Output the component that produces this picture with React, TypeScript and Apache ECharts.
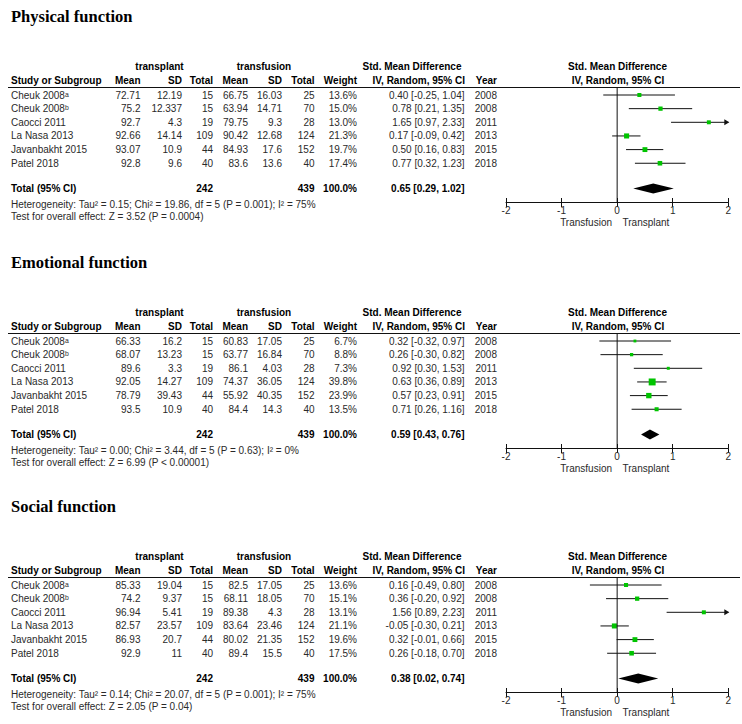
import React, { useEffect, useRef } from "react";
import * as echarts from "echarts";

// ---------- shared data ----------
const studies = ["Cheuk 2008ᵃ", "Cheuk 2008ᵇ", "Caocci 2011", "La Nasa 2013", "Javanbakht 2015", "Patel 2018"];
const years = [2008, 2008, 2011, 2013, 2015, 2018];
const tTotal = [15, 15, 19, 109, 44, 40];
const cTotal = [25, 70, 28, 124, 152, 40];
const xTicks = [-2, -1, 0, 1, 2];

// ---------- Physical function ----------
const physTMean = [72.71, 75.2, 92.7, 92.66, 93.07, 92.8];
const physTSD = [12.19, 12.337, 4.3, 14.14, 10.9, 9.6];
const physCMean = [66.75, 63.94, 79.75, 90.42, 84.93, 83.6];
const physCSD = [16.03, 14.71, 9.3, 12.68, 17.6, 13.6];
const physWeight = [13.6, 15.0, 13.0, 21.3, 19.7, 17.4];
const physSMD = [0.40, 0.78, 1.65, 0.17, 0.50, 0.77];
const physLo = [-0.25, 0.21, 0.97, -0.09, 0.16, 0.32];
const physHi = [1.04, 1.35, 2.33, 0.42, 0.83, 1.23];
const physTotal = [0.65, 0.29, 1.02];
const physHet = "Heterogeneity: Tau² = 0.15; Chi² = 19.86, df = 5 (P = 0.001); I² = 75%";
const physTest = "Test for overall effect: Z = 3.52 (P = 0.0004)";

// ---------- Emotional function ----------
const emoTMean = [66.33, 68.07, 89.6, 92.05, 78.79, 93.5];
const emoTSD = [16.2, 13.23, 3.3, 14.27, 39.43, 10.9];
const emoCMean = [60.83, 63.77, 86.1, 74.37, 55.92, 84.4];
const emoCSD = [17.05, 16.84, 4.03, 36.05, 40.35, 14.3];
const emoWeight = [6.7, 8.8, 7.3, 39.8, 23.9, 13.5];
const emoSMD = [0.32, 0.26, 0.92, 0.63, 0.57, 0.71];
const emoLo = [-0.32, -0.30, 0.30, 0.36, 0.23, 0.26];
const emoHi = [0.97, 0.82, 1.53, 0.89, 0.91, 1.16];
const emoTotal = [0.59, 0.43, 0.76];
const emoHet = "Heterogeneity: Tau² = 0.00; Chi² = 3.44, df = 5 (P = 0.63); I² = 0%";
const emoTest = "Test for overall effect: Z = 6.99 (P < 0.00001)";

// ---------- Social function ----------
const socTMean = [85.33, 74.2, 96.94, 82.57, 86.93, 92.9];
const socTSD = [19.04, 9.37, 5.41, 23.57, 20.7, 11];
const socCMean = [82.5, 68.11, 89.38, 83.64, 80.02, 89.4];
const socCSD = [17.05, 18.05, 4.3, 23.46, 21.35, 15.5];
const socWeight = [13.6, 15.1, 13.1, 21.1, 19.6, 17.5];
const socSMD = [0.16, 0.36, 1.56, -0.05, 0.32, 0.26];
const socLo = [-0.49, -0.20, 0.89, -0.30, -0.01, -0.18];
const socHi = [0.80, 0.92, 2.23, 0.21, 0.66, 0.70];
const socTotal = [0.38, 0.02, 0.74];
const socHet = "Heterogeneity: Tau² = 0.14; Chi² = 20.07, df = 5 (P = 0.001); I² = 75%";
const socTest = "Test for overall effect: Z = 2.05 (P = 0.04)";

const panels = [
  { title: "Physical function", tMean: physTMean, tSD: physTSD, cMean: physCMean, cSD: physCSD, weight: physWeight, smd: physSMD, lo: physLo, hi: physHi, total: physTotal, het: physHet, test: physTest },
  { title: "Emotional function", tMean: emoTMean, tSD: emoTSD, cMean: emoCMean, cSD: emoCSD, weight: emoWeight, smd: emoSMD, lo: emoLo, hi: emoHi, total: emoTotal, het: emoHet, test: emoTest },
  { title: "Social function", tMean: socTMean, tSD: socTSD, cMean: socCMean, cSD: socCSD, weight: socWeight, smd: socSMD, lo: socLo, hi: socHi, total: socTotal, het: socHet, test: socTest },
];

// ---------- layout ----------
const SANS = "'Liberation Sans', Arial, sans-serif";
const SERIF = "'Liberation Serif', 'Times New Roman', serif";
const PANEL_TOP = [87.5, 333.5, 577.5];
const PLOT_LEFT = 506;
const PLOT_RIGHT = 728.3;
const ROW0 = 7.5;
const ROW_H = 13.65;
const TOTAL_Y = 101;
const AXIS_H = 115;
const XMIN = -2;
const XMAX = 2;
const COLS = [140.5, 182, 213, 248, 282, 314.5, 357, 464.5, 497];
const TEXT = "#2a2a2a";
const GREEN = "#00c400";

const fmtCI = (e: number, l: number, h: number) => `${e.toFixed(2)} [${l.toFixed(2)}, ${h.toFixed(2)}]`;
const sum = (a: number[]) => a.reduce((s, v) => s + v, 0);

function txt(x: number, y: number, text: string, align: string, bold = false, extra: any = {}) {
  return {
    type: "text",
    x,
    y,
    silent: true,
    style: {
      text,
      fill: bold ? "#000" : TEXT,
      fontFamily: SANS,
      fontSize: 10,
      fontWeight: bold ? "bold" : "normal",
      align,
      verticalAlign: "middle",
      ...extra,
    },
  };
}

function buildOption() {
  const graphic: any[] = [];
  const grid: any[] = [];
  const xAxis: any[] = [];
  const yAxis: any[] = [];
  const series: any[] = [];

  panels.forEach((p, pi) => {
    const L = PANEL_TOP[pi];
    // title
    graphic.push({
      type: "text", x: 11, y: L - 71, silent: true,
      style: { text: p.title, fill: "#000", fontFamily: SERIF, fontSize: 16.5, fontWeight: "bold", align: "left", verticalAlign: "middle" },
    });
    // header row 1
    const h1 = L - 21.5;
    graphic.push(txt(159.5, h1, "transplant", "center", true));
    graphic.push(txt(264, h1, "transfusion", "center", true));
    graphic.push(txt(412, h1, "Std. Mean Difference", "center", true));
    graphic.push(txt(617.5, h1, "Std. Mean Difference", "center", true));
    // header row 2
    const h2 = L - 7.5;
    graphic.push(txt(11, h2, "Study or Subgroup", "left", true));
    const hdr = ["Mean", "SD", "Total", "Mean", "SD", "Total", "Weight", "IV, Random, 95% CI", "Year"];
    hdr.forEach((h, i) => graphic.push(txt(COLS[i] + (i === 7 ? 0.5 : 0), h2, h, "right", true)));
    graphic.push(txt(618, h2, "IV, Random, 95% CI", "center", true));
    // header rule
    graphic.push({ type: "line", silent: true, shape: { x1: 8, y1: L, x2: 740, y2: L }, style: { stroke: "#111", lineWidth: 1 } });

    // rows
    studies.forEach((s, i) => {
      const y = L + ROW0 + ROW_H * i;
      graphic.push(txt(11, y, s, "left"));
      const cells = [
        String(p.tMean[i]), String(p.tSD[i]), String(tTotal[i]),
        String(p.cMean[i]), String(p.cSD[i]), String(cTotal[i]),
        `${p.weight[i].toFixed(1)}%`, fmtCI(p.smd[i], p.lo[i], p.hi[i]), String(years[i]),
      ];
      cells.forEach((c, ci) => graphic.push(txt(COLS[ci], y, c, "right")));
    });

    // totals
    const ty = L + TOTAL_Y;
    graphic.push(txt(11, ty, "Total (95% CI)", "left", true));
    graphic.push(txt(COLS[2], ty, String(sum(tTotal)), "right", true));
    graphic.push(txt(COLS[5], ty, String(sum(cTotal)), "right", true));
    graphic.push(txt(COLS[6], ty, `${sum(p.weight).toFixed(1)}%`, "right", true));
    graphic.push(txt(COLS[7], ty, fmtCI(p.total[0], p.total[1], p.total[2]), "right", true));
    graphic.push(txt(11, L + 116.5, p.het, "left"));
    graphic.push(txt(11, L + 129, p.test, "left"));

    // favours labels
    graphic.push(txt(612, L + 135, "Transfusion", "right"));
    graphic.push(txt(622.5, L + 135, "Transplant", "left"));

    // grid + axes
    grid.push({ left: PLOT_LEFT, top: L, width: PLOT_RIGHT - PLOT_LEFT, height: AXIS_H, containLabel: false });
    xAxis.push({
      type: "value", gridIndex: pi, min: XMIN, max: XMAX, interval: 1, position: "bottom",
      axisLine: { show: true, onZero: false, lineStyle: { color: "#111", width: 1 } },
      axisTick: { show: true, inside: false, length: 4.5, lineStyle: { color: "#111", width: 1 } },
      axisLabel: { show: true, margin: 3, fontSize: 10, color: TEXT, fontFamily: SANS, showMinLabel: true, showMaxLabel: true, customValues: xTicks },
      splitLine: { show: false },
    });
    xAxis.push({
      type: "value", gridIndex: pi, min: XMIN, max: XMAX, interval: 1, position: "bottom", offset: 0,
      axisLine: { show: false, onZero: false },
      axisTick: { show: true, inside: true, length: 4.5, lineStyle: { color: "#111", width: 1 } },
      axisLabel: { show: false },
      splitLine: { show: false },
    });
    yAxis.push({ type: "value", gridIndex: pi, min: 0, max: AXIS_H, inverse: true, show: false });

    // zero line
    series.push({
      type: "line", xAxisIndex: 2 * pi, yAxisIndex: pi, silent: true, symbol: "none",
      data: [[0, 0], [0, AXIS_H]], lineStyle: { color: "#111", width: 1 },
    });

    // studies
    const studyData = p.smd.map((e, i) => [e, ROW0 + ROW_H * i, p.lo[i], p.hi[i], p.weight[i]]);
    series.push({
      type: "custom", xAxisIndex: 2 * pi, yAxisIndex: pi, silent: true, clip: false,
      encode: { x: 0, y: 1 },
      data: studyData,
      renderItem: (params: any, api: any) => {
        const est = api.value(0);
        const ry = api.value(1);
        const lo = api.value(2);
        const hi = api.value(3);
        const w = api.value(4);
        const [cx, cy] = api.coord([est, ry]);
        const xl = api.coord([Math.max(lo, XMIN), ry])[0];
        const xh = api.coord([Math.min(hi, XMAX), ry])[0];
        const children: any[] = [
          { type: "line", shape: { x1: xl, y1: cy, x2: xh, y2: cy }, style: { stroke: "#111", lineWidth: 1 } },
        ];
        if (hi > XMAX) {
          children.push({ type: "polygon", shape: { points: [[xh + 1, cy], [xh - 4, cy - 3], [xh - 4, cy + 3]] }, style: { fill: "#111" } });
        }
        const s = 1.1 * Math.sqrt(w);
        children.push({ type: "rect", shape: { x: cx - s / 2, y: cy - s / 2, width: s, height: s }, style: { fill: GREEN } });
        return { type: "group", children };
      },
    });

    // pooled diamond
    series.push({
      type: "custom", xAxisIndex: 2 * pi, yAxisIndex: pi, silent: true, clip: false,
      encode: { x: 0, y: 1 },
      data: [[p.total[0], TOTAL_Y, p.total[1], p.total[2]]],
      renderItem: (params: any, api: any) => {
        const ry = api.value(1);
        const [cx, cy] = api.coord([api.value(0), ry]);
        const xl = api.coord([api.value(2), ry])[0];
        const xh = api.coord([api.value(3), ry])[0];
        return { type: "polygon", shape: { points: [[xl, cy], [cx, cy - 5], [xh, cy], [cx, cy + 5]] }, style: { fill: "#000" } };
      },
    });
  });

  return { animation: false, backgroundColor: "#fff", grid, xAxis, yAxis, series, graphic };
}

export default function App() {
  const ref = useRef<HTMLDivElement>(null);
  useEffect(() => {
    if (!ref.current) return;
    const chart = echarts.init(ref.current, undefined, { renderer: "svg" });
    chart.setOption(buildOption() as any);
    return () => chart.dispose();
  }, []);
  return <div ref={ref} style={{ position: "absolute", left: 0, top: 0, width: 742, height: 724, background: "#fff" }} />;
}
